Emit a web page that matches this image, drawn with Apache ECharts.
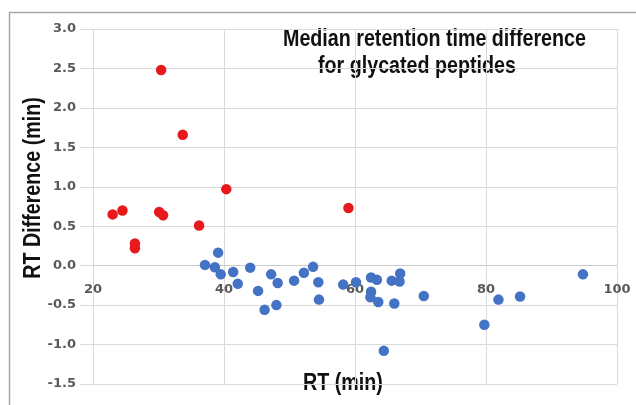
<!DOCTYPE html>
<html>
<head>
<meta charset="utf-8">
<title>Median retention time difference</title>
<script src="https://cdn.jsdelivr.net/npm/echarts@6/dist/echarts.min.js"></script>
<style>
  html, body { margin: 0; padding: 0; background: #fff; }
  #chart { width: 636px; height: 405px; }
</style>
</head>
<body>
<div id="chart"></div>
<script>
// --- data ---
// glycated peptides with a large shift (red)
const redRT   = [23.0, 24.5, 26.4, 26.4, 30.1, 30.7, 30.4, 33.7, 36.2, 40.35, 59.0]
const redDiff = [0.65, 0.70, 0.28, 0.22, 0.68, 0.64, 2.48, 1.66, 0.51, 0.97, 0.73]

// the rest (blue)
const blueRT = [
  37.1, 38.6, 39.1, 39.5, 41.4, 42.1, 44.0, 45.2, 46.2, 47.2, 48.2, 48.0,
  50.7, 52.2, 53.6, 54.4, 54.5, 58.2, 60.15, 62.45, 63.35, 62.45, 62.35, 63.55,
  64.4, 65.6, 66.9, 66.8, 66.0, 70.5, 79.75, 81.9, 85.2, 94.8
]
const blueDiff = [
  0.01, -0.02, 0.165, -0.11, -0.08, -0.23, -0.025, -0.32, -0.56, -0.11, -0.22, -0.50,
  -0.19, -0.09, -0.015, -0.21, -0.43, -0.24, -0.21, -0.15, -0.18, -0.33, -0.40, -0.46,
  -1.08, -0.19, -0.10, -0.20, -0.48, -0.385, -0.75, -0.43, -0.39, -0.11
]

const xTicks = [20, 40, 60, 80, 100]
const yTicks = [-1.5, -1.0, -0.5, 0.0, 0.5, 1.0, 1.5, 2.0, 2.5, 3.0]
const titleLines = ['Median retention time difference', 'for glycated peptides']

const zip = (xs, ys) => xs.map((x, i) => [x, ys[i]])

// plot box (px)
const gridTop = 29, gridBottom = 21
const plotH = 405 - gridTop - gridBottom
// x axis sits on y = 0, so shift it up from the bottom of the plot
const zeroShift = plotH * (0 - yTicks[0]) / (yTicks[yTicks.length - 1] - yTicks[0])

const gridColor = '#dadada'
const labelStyle = {
  color: '#595959',
  fontFamily: 'DejaVu Sans',
  fontWeight: 'bold',
  fontSize: 13
}
// narrow bold look: Liberation Sans squeezed horizontally
const nameFont = {
  fill: '#111',
  fontFamily: 'Liberation Sans',
  fontWeight: 'bold',
  fontSize: 24
}
const squeeze = 0.82

const chart = echarts.init(document.getElementById('chart'), null, { renderer: 'canvas' })

const option = {
  backgroundColor: '#fff',
  animation: false,
  grid: { left: 93, right: 19, top: gridTop, bottom: gridBottom },
  xAxis: {
    type: 'value',
    min: xTicks[0],
    max: xTicks[xTicks.length - 1],
    interval: 20,
    offset: -zeroShift,
    axisLine: { show: true, onZero: false, lineStyle: { color: '#c9c9c9', width: 1 } },
    axisTick: { show: false },
    axisLabel: { ...labelStyle, margin: 17 },
    splitLine: { show: true, lineStyle: { color: gridColor, width: 1 } }
  },
  yAxis: {
    type: 'value',
    min: yTicks[0],
    max: yTicks[yTicks.length - 1],
    interval: 0.5,
    axisLine: { show: false },
    axisTick: { show: true, length: 13, lineStyle: { color: gridColor } },
    axisLabel: { ...labelStyle, margin: 17, formatter: v => v.toFixed(1) },
    splitLine: { show: true, lineStyle: { color: gridColor, width: 1 } }
  },
  series: [
    {
      name: 'other',
      type: 'scatter',
      symbolSize: 10.5,
      itemStyle: { color: '#4472c4', opacity: 1 },
      data: zip(blueRT, blueDiff)
    },
    {
      name: 'shifted',
      type: 'scatter',
      symbolSize: 10.5,
      itemStyle: { color: '#e8191c', opacity: 1 },
      data: zip(redRT, redDiff)
    }
  ],
  graphic: [
    // outer frame (only top and left edges are inside the picture)
    {
      type: 'rect',
      shape: { x: 9.5, y: 12.5, width: 700, height: 500 },
      style: { fill: null, stroke: '#a8a8a8', lineWidth: 1.5 },
      silent: true
    },
    {
      type: 'text', x: 283, y: 39, scaleX: squeeze,
      style: { text: titleLines[0], ...nameFont, align: 'left', verticalAlign: 'middle' }
    },
    {
      type: 'text', x: 318, y: 66, scaleX: squeeze,
      style: { text: titleLines[1], ...nameFont, align: 'left', verticalAlign: 'middle' }
    },
    {
      type: 'text', x: 343, y: 383, scaleX: squeeze,
      style: { text: 'RT (min)', ...nameFont, align: 'center', verticalAlign: 'middle' }
    },
    {
      type: 'text', x: 33, y: 188, rotation: Math.PI / 2, scaleX: squeeze,
      style: { text: 'RT Difference (min)', ...nameFont, align: 'center', verticalAlign: 'middle' }
    }
  ]
}

chart.setOption(option)
</script>
</body>
</html>
